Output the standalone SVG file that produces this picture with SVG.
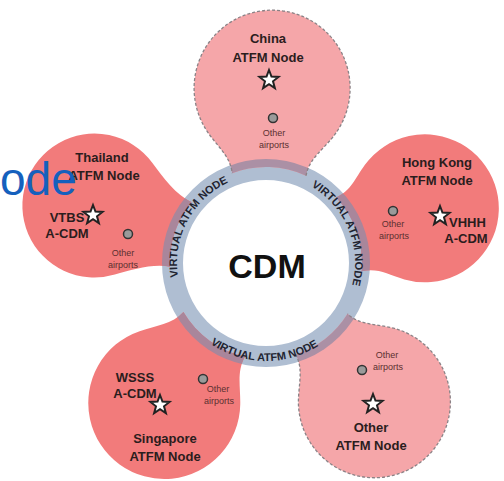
<svg xmlns="http://www.w3.org/2000/svg" xmlns:xlink="http://www.w3.org/1999/xlink" width="504" height="481" viewBox="0 0 504 481">
<style>
.bg{fill:#ffffff}
.ring{fill:none;stroke:#afbed2;stroke-width:21}
.pk-s{fill:#f27b7b}
.pk-l{fill:#f5a6a9}
.mv-s{fill:#a9869b}
.mv-l{fill:#ab90a5}
.dash{fill:none;stroke:#8a8286;stroke-width:1.3;stroke-dasharray:3 2}
.lbl{font-family:'Liberation Sans',Arial,sans-serif;font-weight:bold;font-size:13px;fill:#2b1d1d;text-anchor:middle}
.sm{font-family:'Liberation Sans',Arial,sans-serif;font-size:9px;fill:#5b3030;text-anchor:middle}
.rt{font-family:'Liberation Sans',Arial,sans-serif;font-weight:bold;font-size:11px;fill:#1f2430;text-anchor:middle}
.cdm{font-family:'Liberation Sans',Arial,sans-serif;font-weight:bold;font-size:34px;fill:#111111;text-anchor:middle}
.star{fill:#ffffff;stroke:#222222;stroke-width:2;stroke-linejoin:miter}
.ap{fill:#9a9a9a;stroke:#333333;stroke-width:1.5}
.ode{font-family:'Liberation Sans',Arial,sans-serif;font-size:46px;fill:#1560bd}
</style>
<defs>
<clipPath id="ringclip"><circle cx="266" cy="263" r="104"/></clipPath>
<polygon id="star" points="0,-10 2.47,-3.4 9.51,-3.09 4,1.3 5.88,8.09 0,4.2 -5.88,8.09 -4,1.3 -9.51,-3.09 -2.47,-3.4"/>
<path id="p-china" transform="translate(266,263) rotate(2)" d="M37,-88.6 C39,-105.6 53.6,-115.5 63.9,-130.2 A78,78 0 1 0 -63.9,-130.2 C-53.6,-115.5 -39,-105.6 -37,-88.6 A96,96 0 0 1 37,-88.6 Z"/>
<path id="p-thai" transform="translate(266,263) rotate(-71.5)" d="M34,-89.8 C36,-106.8 48.7,-125 59,-139.7 A72,72 0 1 0 -59,-139.7 C-48.7,-125 -36,-106.8 -34,-89.8 A96,96 0 0 1 34,-89.8 Z"/>
<path id="p-hk" transform="translate(266,263) rotate(71)" d="M39,-87.7 C41,-104.7 50.3,-110.8 60.6,-125.5 A74,74 0 1 0 -60.6,-125.5 C-50.3,-110.8 -41,-104.7 -39,-87.7 A96,96 0 0 1 39,-87.7 Z"/>
<path id="p-sg" transform="translate(266,263) rotate(-144)" d="M38,-88.2 C40,-105.2 51.9,-114.7 62.2,-129.4 A76,76 0 1 0 -62.2,-129.4 C-51.9,-114.7 -40,-105.2 -38,-88.2 A96,96 0 0 1 38,-88.2 Z"/>
<path id="p-other" transform="translate(266,263) rotate(142)" d="M33,-90.2 C35,-107.2 51.9,-117.7 62.2,-132.4 A76,76 0 1 0 -62.2,-132.4 C-51.9,-117.7 -35,-107.2 -33,-90.2 A96,96 0 0 1 33,-90.2 Z"/>
<path id="arc-ul" d="M190.5,310.2 A89,89 0 0 1 262.9,174.1"/>
<path id="arc-ur" d="M277.5,174.7 A89,89 0 0 1 336.7,317.1"/>
<path id="arc-b" d="M180.2,310.4 A98,98 0 0 0 349.9,313.6"/>
</defs>
<rect class="bg" x="0" y="0" width="504" height="481"/>
<g id="connectors">
<circle class="ring" cx="266" cy="263" r="93.5"/>
</g>
<g id="china">
<use xlink:href="#p-china" href="#p-china" class="pk-l"/>
<use xlink:href="#p-china" href="#p-china" class="mv-l" clip-path="url(#ringclip)"/>
<path class="dash" transform="translate(266,263) rotate(2)" d="M37,-88.6 C39,-105.6 53.6,-115.5 63.9,-130.2 A78,78 0 1 0 -63.9,-130.2 C-53.6,-115.5 -39,-105.6 -37,-88.6"/>
<text class="lbl" x="268" y="43">China</text>
<text class="lbl" x="268" y="62">ATFM Node</text>
<use xlink:href="#star" href="#star" class="star" transform="translate(269,80)"/>
<circle class="ap" cx="273" cy="118" r="4.5"/>
<text class="sm" x="274" y="136">Other</text>
<text class="sm" x="274" y="148">airports</text>
</g>
<g id="thailand">
<use xlink:href="#p-thai" href="#p-thai" class="pk-s"/>
<use xlink:href="#p-thai" href="#p-thai" class="mv-s" clip-path="url(#ringclip)"/>
<text class="lbl" x="102" y="162">Thailand</text>
<text class="lbl" x="104" y="180">ATFM Node</text>
<text class="lbl" x="67" y="222">VTBS</text>
<use xlink:href="#star" href="#star" class="star" transform="translate(93,215)"/>
<text class="lbl" x="67" y="238">A-CDM</text>
<circle class="ap" cx="128" cy="234" r="4.5"/>
<text class="sm" x="123" y="256">Other</text>
<text class="sm" x="123" y="268">airports</text>
</g>
<g id="hongkong">
<use xlink:href="#p-hk" href="#p-hk" class="pk-s"/>
<use xlink:href="#p-hk" href="#p-hk" class="mv-s" clip-path="url(#ringclip)"/>
<text class="lbl" x="437" y="167">Hong Kong</text>
<text class="lbl" x="437" y="185">ATFM Node</text>
<circle class="ap" cx="393" cy="211" r="4.5"/>
<text class="sm" x="393" y="227">Other</text>
<text class="sm" x="394" y="239">airports</text>
<use xlink:href="#star" href="#star" class="star" transform="translate(440,216)"/>
<text class="lbl" x="449" y="227" style="text-anchor:start">VHHH</text>
<text class="lbl" x="466" y="243">A-CDM</text>
</g>
<g id="singapore">
<use xlink:href="#p-sg" href="#p-sg" class="pk-s"/>
<use xlink:href="#p-sg" href="#p-sg" class="mv-s" clip-path="url(#ringclip)"/>
<text class="lbl" x="135" y="382">WSSS</text>
<text class="lbl" x="135" y="398">A-CDM</text>
<use xlink:href="#star" href="#star" class="star" transform="translate(160,405)"/>
<circle class="ap" cx="203" cy="379" r="4.5"/>
<text class="sm" x="218" y="392">Other</text>
<text class="sm" x="219" y="404">airports</text>
<text class="lbl" x="165" y="443">Singapore</text>
<text class="lbl" x="165" y="461">ATFM Node</text>
</g>
<g id="other">
<use xlink:href="#p-other" href="#p-other" class="pk-l"/>
<use xlink:href="#p-other" href="#p-other" class="mv-l" clip-path="url(#ringclip)"/>
<path class="dash" transform="translate(266,263) rotate(142)" d="M33,-90.2 C35,-107.2 51.9,-117.7 62.2,-132.4 A76,76 0 1 0 -62.2,-132.4 C-51.9,-117.7 -35,-107.2 -33,-90.2"/>
<text class="sm" x="387" y="358">Other</text>
<text class="sm" x="388" y="370">airports</text>
<circle class="ap" cx="362" cy="370" r="4.5"/>
<use xlink:href="#star" href="#star" class="star" transform="translate(373,404)"/>
<text class="lbl" x="371" y="432">Other</text>
<text class="lbl" x="371" y="450">ATFM Node</text>
</g>
<g id="cdm">
<text class="rt"><textPath xlink:href="#arc-ul" href="#arc-ul" startOffset="50%">VIRTUAL ATFM NODE</textPath></text>
<text class="rt"><textPath xlink:href="#arc-ur" href="#arc-ur" startOffset="50%">VIRTUAL ATFM NODE</textPath></text>
<text class="rt"><textPath xlink:href="#arc-b" href="#arc-b" startOffset="50%">VIRTUAL ATFM NODE</textPath></text>
<text class="cdm" x="267" y="278">CDM</text>
</g>
<text class="ode" x="0" y="195">ode</text>
</svg>
